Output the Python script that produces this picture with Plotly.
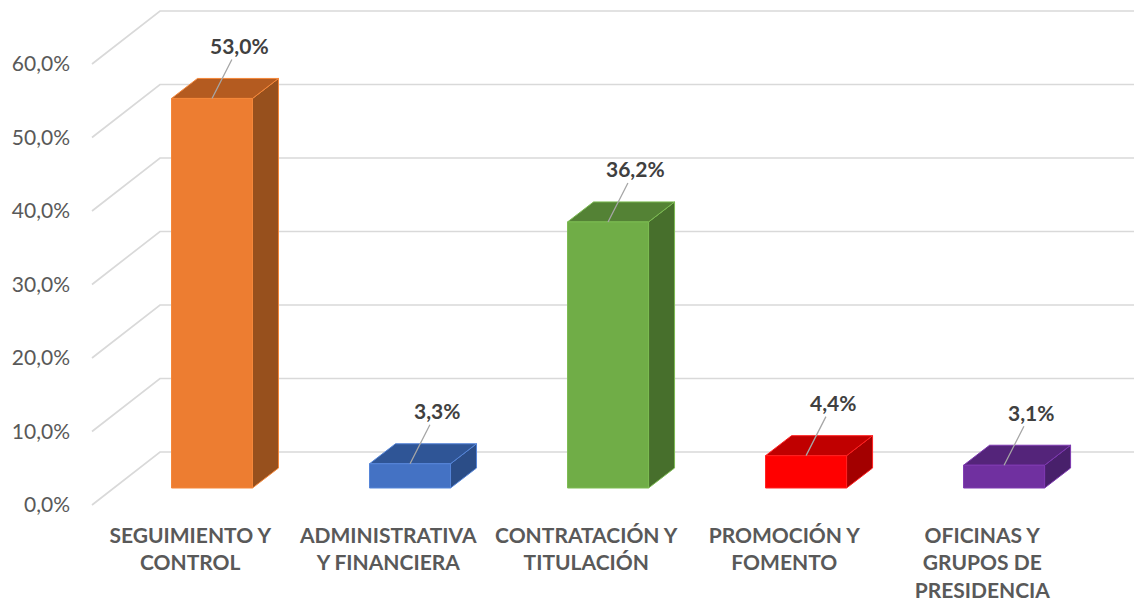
import plotly.graph_objects as go

# ---- data ----
categories = ["SEGUIMIENTO Y<br>CONTROL", "ADMINISTRATIVA<br>Y FINANCIERA",
              "CONTRATACIÓN Y<br>TITULACIÓN", "PROMOCIÓN Y<br>FOMENTO",
              "OFICINAS Y<br>GRUPOS DE<br>PRESIDENCIA"]
values = [53.0, 3.3, 36.2, 4.4, 3.1]
value_labels = ["53,0%", "3,3%", "36,2%", "4,4%", "3,1%"]
y_ticks = [0, 10, 20, 30, 40, 50, 60]
y_tick_labels = ["0,0%", "10,0%", "20,0%", "30,0%", "40,0%", "50,0%", "60,0%"]

# ---- style ----
front_colors = ["#ED7D31", "#4472C4", "#70AD47", "#FF0000", "#7030A0"]
top_colors = ["#B45B20", "#2F5596", "#548235", "#C00000", "#54247A"]
side_colors = ["#97501D", "#2B4D87", "#476F2C", "#A30000", "#48206B"]
edge_colors = ["#F4873A", "#5585D8", "#7CBB52", "#FF2020", "#7D38B0"]

PX_X = 198.0   # pixels per category
PX_Y = 7.35    # pixels per percent
X_LEFT = -0.5313
X_RIGHT = 4.847
X_WALL = -0.496
DX_WALL, DY_WALL = 68 / PX_X, 53 / PX_Y     # full floor depth
FDX, FDY = 21.8 / PX_X, 17 / PX_Y           # bar front plane offset
DDX, DDY = 26 / PX_X, 20 / PX_Y             # bar depth
BAR_W = 81 / PX_X
GRID = "#D9D9D9"

fig = go.Figure()

# walls / gridlines
gx, gy = [], []
for t in y_ticks:
    gx += [X_WALL, X_WALL + DX_WALL, X_RIGHT + 0.1, None]
    gy += [t, t + DY_WALL, t + DY_WALL, None]
fig.add_trace(go.Scatter(x=gx, y=gy, mode="lines", line=dict(color=GRID, width=1.7),
                         hoverinfo="skip", showlegend=False))

# 3D bars
for i, v in enumerate(values):
    x0 = i + FDX - BAR_W / 2
    x1 = i + FDX + BAR_W / 2
    y0 = FDY
    yt = FDY + v
    # side face
    fig.add_trace(go.Scatter(
        x=[x1, x1 + DDX, x1 + DDX, x1, x1],
        y=[y0, y0 + DDY, yt + DDY, yt, y0],
        fill="toself", fillcolor=side_colors[i], mode="lines",
        line=dict(color=edge_colors[i], width=1), hoverinfo="skip", showlegend=False))
    # top face
    fig.add_trace(go.Scatter(
        x=[x0, x1, x1 + DDX, x0 + DDX, x0],
        y=[yt, yt, yt + DDY, yt + DDY, yt],
        fill="toself", fillcolor=top_colors[i], mode="lines",
        line=dict(color=edge_colors[i], width=1), hoverinfo="skip", showlegend=False))
    # front face
    fig.add_trace(go.Scatter(
        x=[x0, x1, x1, x0, x0],
        y=[y0, y0, yt, yt, y0],
        fill="toself", fillcolor=front_colors[i], mode="lines",
        line=dict(color=edge_colors[i], width=1), hoverinfo="skip", showlegend=False))
    # data label with leader line
    fig.add_annotation(
        x=i + FDX, y=yt, text="<b>" + value_labels[i] + "</b>",
        showarrow=True, arrowhead=0, arrowwidth=1.3, arrowcolor="#A6A6A6",
        ax=27, ay=-53, standoff=0, startstandoff=0,
        font=dict(family="Lato", size=21, color="#404040"))

fig.update_layout(
    width=1142, height=602,
    margin=dict(l=77, r=0, t=0, b=98),
    paper_bgcolor="white", plot_bgcolor="white",
    xaxis=dict(range=[X_LEFT, X_RIGHT], tickmode="array",
               tickvals=list(range(len(categories))),
               ticktext=["<b>" + c + "</b>" for c in categories],
               tickfont=dict(family="Lato", size=21, color="#595959"),
               showgrid=False, zeroline=False, showline=False, ticks="",
               ticklabelstandoff=9, fixedrange=True),
    yaxis=dict(range=[-7 / PX_Y, 497 / PX_Y], tickmode="array",
               tickvals=y_ticks, ticktext=y_tick_labels,
               tickfont=dict(family="Lato", size=21, color="#595959"),
               showgrid=False, zeroline=False, showline=False, ticks="",
               ticklabelstandoff=14, fixedrange=True),
    showlegend=False,
)

fig.write_html("out.html")
